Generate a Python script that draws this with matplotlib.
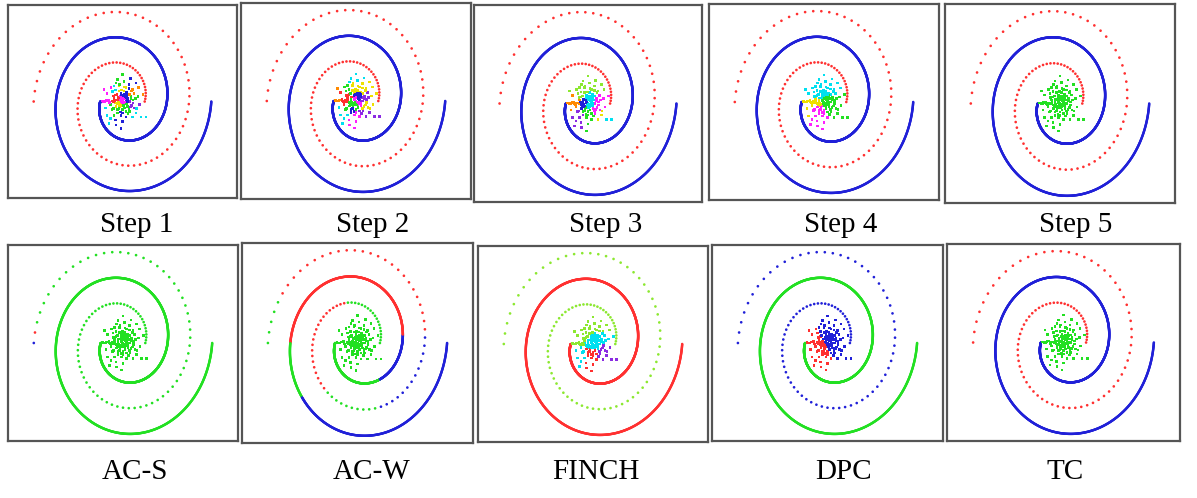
import numpy as np
import matplotlib
matplotlib.use("Agg")
import matplotlib.pyplot as plt

# two-spirals dataset: angle range (in units of pi) and point counts
theta_start = 1.0
theta_end = 4.0
n_solid = 1500
n_dotted = 93

# central gaussian-like blob
blob_x = [0.0, -0.7, -0.9, 0.2, 0.9, -1.6, -1.2, -0.5, 0.5, 1.4, 1.9, 1.6, -2.2, -1.4, -1.0, -0.2, 0.2, 0.7, 1.2, 2.2,
          -2.7, -2.0, -1.2, -0.7, -0.2, 0.0, 0.5, 1.0, 1.5, 2.4, -1.7, -1.0, -0.5, 0.2, 0.7, 1.7, -1.5, -0.7, 0.0, 1.0, 1.9,
          -2.2, -1.2, -0.2, 0.5, 1.4, 3.3, -1.0, 0.0, -1.7, -0.2, 2.6,
          -0.3, 0.3, -0.1, 0.4, 0.1, -0.6, 0.8, -0.4, 0.6, -0.8, 0.2, -0.2, 0.9, -1.1, 1.2, 0.3, -0.5, 0.6, -0.9, 1.3,
          0.0, -0.3, 0.4, -0.6, 0.7, 0.1, -0.2, 0.2, -0.4, 0.5, -1.3, 1.0, -0.1, 0.8, -0.7, 1.5, -1.8, 0.3, -0.3, 1.1,
          -1.0, 0.9, -0.4, 1.8, -2.4, 2.0, -0.8, 0.0, 0.5, -1.3, 1.3, -0.1, 0.6, -0.5,
          -2.9, -2.5, -2.3, -1.9, -1.5, -1.3, 2.9, -2.6, 1.1, -1.9, 2.3, -0.9]
blob_y = [3.3, 2.7, 2.3, 2.5, 2.1, 1.7, 1.9, 1.9, 1.7, 1.5, 2.3, 1.0, 1.0, 1.2, 0.8, 1.0, 1.3, 0.8, 0.6, 0.6,
          0.0, 0.2, 0.4, 0.2, 0.4, 0.0, 0.2, 0.0, -0.2, -0.4, -0.4, -0.2, -0.4, -0.4, -0.6, -0.8, -1.0, -1.0, -1.0, -1.2, -1.4,
          -1.7, -1.7, -1.7, -1.9, -1.9, -1.9, -2.3, -2.5, -2.1, -3.3, -1.9,
          0.1, 0.3, -0.2, -0.1, 0.6, 0.5, 0.4, -0.7, -0.3, -0.3, 0.9, -0.5, -0.9, 0.1, 0.3, -0.8, 1.3, 1.1, -0.6, -0.5,
          0.4, 0.7, 0.6, -0.1, 0.0, -0.5, 0.2, -0.1, -0.3, 0.9, 0.7, 0.9, 1.4, -1.5, -1.4, 0.2, -0.1, 1.8, -1.3, -0.7,
          1.4, 1.6, 2.1, 0.4, -0.8, -0.9, 0.9, -1.4, -1.2, -0.9, 1.3, 0.8, 0.5, -0.9,
          0.05, 0.0, 0.1, 0.0, 0.05, -0.05, 0.9, 1.5, 2.8, -2.7, 1.7, -2.9]

titles = ["Step 1", "Step 2", "Step 3", "Step 4", "Step 5",
          "AC-S", "AC-W", "FINCH", "DPC", "TC"]

RED = "#ff3030"
GREEN = "#22e022"
BLUE = "#2020d8"
CYAN = "#00e0f0"
MAGENTA = "#ff20ff"
YELLOW = "#eee000"
ORANGE = "#ff8a00"
PURPLE = "#8a2be2"
LIME = "#8ce830"

# colour segments along each spiral: (theta/pi upper bound, colour)
solid_segments = [[(4.0, BLUE)]] * 5 + [
    [(4.0, GREEN)],
    [(1.7, GREEN), (2.05, BLUE), (3.0, RED), (3.22, GREEN), (4.0, BLUE)],
    [(4.0, RED)],
    [(4.0, GREEN)],
    [(4.0, BLUE)],
]
dotted_segments = [[(4.0, RED)]] * 5 + [
    [(3.95, GREEN), (3.98, RED), (4.0, BLUE)],
    [(1.6, GREEN), (2.3, RED), (2.6, GREEN), (3.05, BLUE), (3.85, RED), (4.0, GREEN)],
    [(4.0, LIME)],
    [(4.0, BLUE)],
    [(4.0, RED)],
]

# cluster colour regions per panel: (x, y, colour) seeds
blob_seeds = [
    [(0, 2.5, GREEN), (-1.9, 1.7, MAGENTA), (-2, 0.6, MAGENTA), (1, 2, BLUE), (0.2, 1.9, YELLOW),
     (-1.5, 1.4, CYAN), (1.5, 1, ORANGE), (-1, 0.4, RED), (0.1, 0.1, MAGENTA), (-0.7, -0.4, YELLOW),
     (-1, -1, GREEN), (-2.2, -1.7, CYAN), (1.7, -1.5, CYAN), (3.4, -1.7, CYAN), (-0.5, -1.9, BLUE),
     (-0.2, -3.1, BLUE), (1.2, -0.4, PURPLE), (1.5, 0.6, GREEN), (0.5, 0.5, BLUE), (0.4, -0.8, GREEN)],
    [(-1, 2.9, CYAN), (0.5, 2.7, CYAN), (0, 1.7, YELLOW), (0.7, 1.5, YELLOW), (-1.2, 1.5, GREEN),
     (-1.5, 0.6, RED), (-1.9, 0.2, RED), (-2.6, 0.1, ORANGE), (0.5, 0.4, BLUE), (0.2, 0, MAGENTA),
     (-0.2, -0.4, GREEN), (1, 0.2, PURPLE), (-1, -0.8, GREEN), (-1.9, -1.5, CYAN), (-0.7, -1, BLUE),
     (1.5, -1.5, PURPLE), (3.1, -1.7, PURPLE), (-0.5, -1.9, MAGENTA), (-0.5, -2.9, MAGENTA), (1.5, -0.4, YELLOW)],
    [(0, 2.3, LIME), (-1, 1.5, LIME), (1, 1.9, LIME), (-2, 0, ORANGE), (-2.4, -0.2, ORANGE),
     (0.5, 0.4, CYAN), (0.2, -0.2, CYAN), (1.5, 0, MAGENTA), (1.2, -0.6, MAGENTA), (-0.2, -0.6, GREEN),
     (-1.2, -1.5, PURPLE), (-1, -1.9, PURPLE), (1.7, -1.5, YELLOW), (0.5, -1.9, GREEN), (2.9, -2.1, CYAN),
     (-0.5, -0.2, BLUE)],
    [(-0.5, 2.1, CYAN), (1, 1.9, CYAN), (-1, 1, CYAN), (-1.9, -0.2, YELLOW), (-1.2, 0, YELLOW),
     (0.7, -0.2, GREEN), (1.4, -0.6, GREEN), (2.7, -1.9, GREEN), (-0.7, -1.2, MAGENTA), (-0.5, -2.3, MAGENTA)],
    [(0, 0, GREEN)],
    [(0, 0, GREEN)],
    [(0, 0, GREEN)],
    [(-1, 1.6, LIME), (0.7, 2.3, LIME), (-2.2, 0.6, LIME), (0, 0, CYAN), (0.5, 0.6, CYAN),
     (-1.7, -1.5, CYAN), (-0.2, -1.3, RED), (0, -2.3, RED), (-0.2, -3.1, RED), (1.7, -1.3, PURPLE),
     (3.1, -1.9, PURPLE)],
    [(0, 0, BLUE), (-0.7, -0.4, RED), (-1.2, -1.2, RED), (-1.7, -2.1, RED)],
    [(0, 0, GREEN)],
]

# panel boxes in pixels (left, top, right, bottom)
boxes = [(8, 5, 237, 198), (241, 3, 471, 199), (474, 5, 702, 202), (709, 4, 939, 200), (945, 4, 1175, 203),
         (8, 245, 238, 441), (242, 243, 473, 443), (478, 246, 708, 442), (712, 245, 943, 441), (947, 244, 1180, 441)]
label_x = [137, 373, 606, 841, 1076, 135, 372, 596, 843, 1065]

W, H = 1197, 498


def seg_colours(t, segments):
    cols = []
    for v in t / np.pi:
        for bound, c in segments:
            if v <= bound + 1e-9:
                cols.append(c)
                break
    return cols


fig = plt.figure(figsize=(W / 100, H / 100), dpi=100)

t_solid = np.linspace(theta_start * np.pi, theta_end * np.pi, n_solid)
t_dot = np.linspace(theta_start * np.pi, theta_end * np.pi, n_dotted)
bx = np.array(blob_x)
by = np.array(blob_y)

for i in range(10):
    l, t, r, b = boxes[i]
    ax = fig.add_axes([l / W, 1 - b / H, (r - l) / W, (b - t) / H])
    ax.scatter(t_solid * np.cos(t_solid), t_solid * np.sin(t_solid), s=3.2, marker="o", lw=0,
               c=seg_colours(t_solid, solid_segments[i]))
    ax.scatter(-t_dot * np.cos(t_dot), -t_dot * np.sin(t_dot), s=3.6, marker="o", lw=0,
               c=seg_colours(t_dot, dotted_segments[i]))
    seeds = blob_seeds[i]
    sx = np.array([s[0] for s in seeds])
    sy = np.array([s[1] for s in seeds])
    idx = np.argmin((bx[:, None] - sx) ** 2 + (by[:, None] - sy) ** 2, axis=1)
    ax.scatter(bx, by, s=3.5, marker="s", lw=0, c=[seeds[k][2] for k in idx])
    ax.set_xlim(-16.2, 16.2)
    ax.set_ylim(-11.9, 11.9)
    ax.set_xticks([])
    ax.set_yticks([])
    for sp in ax.spines.values():
        sp.set_color("#555555")
        sp.set_linewidth(1.6)
    ty = 225 if i < 5 else 472
    fig.text(label_x[i] / W, 1 - ty / H, titles[i], ha="center", va="center",
             fontsize=21, family="Liberation Serif")

fig.savefig("out.png", dpi=100)
